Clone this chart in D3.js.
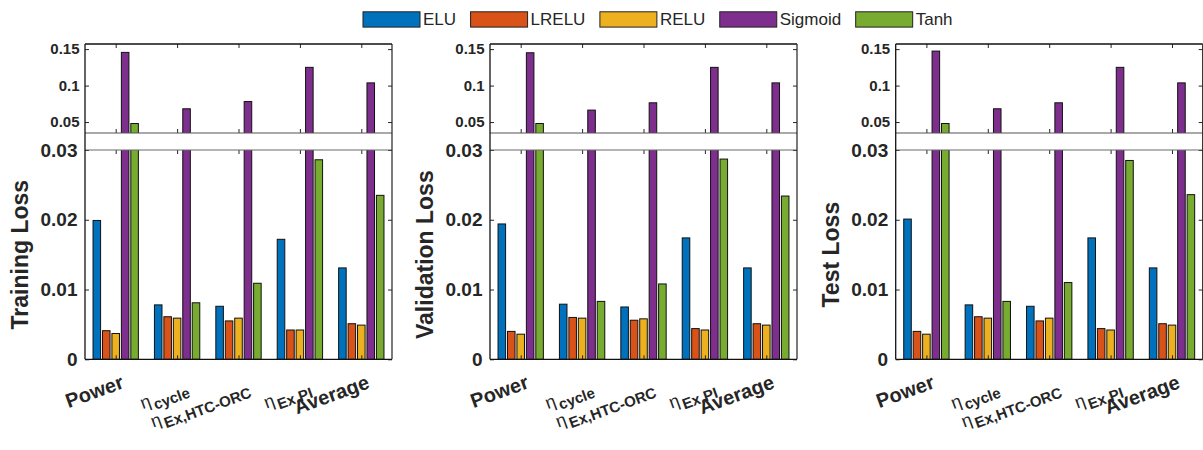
<!DOCTYPE html>
<html>
<head>
<meta charset="utf-8">
<script src="https://cdn.jsdelivr.net/npm/d3@7"></script>
<style>
  body { margin: 0; background: #fff; }
  svg { display: block; }
  text { font-family: "Liberation Sans", Arial, Helvetica, sans-serif; fill: #262626; }
</style>
</head>
<body>
<svg id="chart" width="1203" height="450"></svg>
<script>
// ---- data ----------------------------------------------------------------
// category labels: "η_xxx" is drawn as η with subscript xxx
const categories = ["Power", "η_cycle", "η_Ex,HTC-ORC", "η_Ex,PI", "Average"];
const seriesNames = ["ELU", "LRELU", "RELU", "Sigmoid", "Tanh"];
const seriesColors = ["#0072BD", "#D95319", "#EDB120", "#7E2F8E", "#77AC30"];

// one row per activation function, one column per category
const trainingLoss = [
  [0.0199, 0.0078, 0.0076, 0.0172, 0.0131],
  [0.0041, 0.0061, 0.0055, 0.0042, 0.0051],
  [0.0037, 0.0059, 0.0059, 0.0042, 0.0049],
  [0.1455, 0.0682, 0.0781, 0.1250, 0.1037],
  [0.0480, 0.0081, 0.0109, 0.0286, 0.0235]
];
const validationLoss = [
  [0.0194, 0.0079, 0.0075, 0.0174, 0.0131],
  [0.0040, 0.0060, 0.0056, 0.0044, 0.0051],
  [0.0036, 0.0059, 0.0058, 0.0042, 0.0049],
  [0.1450, 0.0664, 0.0764, 0.1250, 0.1037],
  [0.0480, 0.0083, 0.0108, 0.0287, 0.0234]
];
const testLoss = [
  [0.0201, 0.0078, 0.0076, 0.0174, 0.0131],
  [0.0040, 0.0061, 0.0055, 0.0044, 0.0051],
  [0.0036, 0.0059, 0.0059, 0.0042, 0.0049],
  [0.1473, 0.0682, 0.0764, 0.1250, 0.1037],
  [0.0480, 0.0083, 0.0110, 0.0285, 0.0236]
];
const panelTitles = ["Training Loss", "Validation Loss", "Test Loss"];
const panelData = [trainingLoss, validationLoss, testLoss];

const lowerTicks = [0, 0.01, 0.02, 0.03];
const lowerTickLabels = ["0", "0.01", "0.02", "0.03"];
const upperTicks = [0.05, 0.1, 0.15];
const upperTickLabels = ["0.05", "0.1", "0.15"];
const lowerDomain = [0, 0.03];
const upperDomain = [0.035, 0.157];

// ---- layout --------------------------------------------------------------
const svg = d3.select("#chart");
const panelLefts = [85, 490, 895.7];
const axW = 307;
const upperTop = 44, upperBottom = 133, lowerTop = 150, lowerBottom = 359.3;
const tickLen = 4;

// grouped-bar geometry (five bars per group)
const nS = seriesNames.length;
const groupWidth = Math.min(0.8, nS / (nS + 1.5));
const barStep = groupWidth / nS;
const barFrac = barStep * 0.8;

function styleAxis(sel) {
  sel.select(".domain").remove();
  sel.selectAll(".tick line").attr("stroke", "#262626").attr("stroke-width", 1);
}

panelData.forEach((values, pi) => {
  const x0 = panelLefts[pi], x1 = x0 + axW;
  const g = svg.append("g");

  const x = d3.scaleLinear().domain([0.5, categories.length + 0.5]).range([x0, x1]);
  const yU = d3.scaleLinear().domain(upperDomain).range([upperBottom, upperTop]);
  const yL = d3.scaleLinear().domain(lowerDomain).range([lowerBottom, lowerTop]);
  const bw = x(1 + barFrac) - x(1);

  // clip regions for the two halves of the broken axis
  const defs = g.append("defs");
  defs.append("clipPath").attr("id", "clipU" + pi).append("rect")
    .attr("x", x0).attr("y", upperTop).attr("width", axW).attr("height", upperBottom - upperTop);
  defs.append("clipPath").attr("id", "clipL" + pi).append("rect")
    .attr("x", x0).attr("y", lowerTop).attr("width", axW).attr("height", lowerBottom - lowerTop);

  const flat = [];
  values.forEach((row, si) => row.forEach((v, ci) => flat.push({ si, ci, v })));
  const cx = d => x(d.ci + 1 + (d.si - (nS - 1) / 2) * barStep);

  // lower half: 0 .. 0.03
  g.append("g").attr("clip-path", `url(#clipL${pi})`)
    .selectAll("rect").data(flat).join("rect")
    .attr("x", d => cx(d) - bw / 2)
    .attr("width", bw)
    .attr("y", d => yL(d.v))
    .attr("height", d => yL(0) - yL(d.v))
    .attr("fill", d => seriesColors[d.si])
    .attr("stroke", "#111").attr("stroke-width", 1);

  // upper half: only bars reaching above the break
  g.append("g").attr("clip-path", `url(#clipU${pi})`)
    .selectAll("rect").data(flat.filter(d => d.v > upperDomain[0])).join("rect")
    .attr("x", d => cx(d) - bw / 2)
    .attr("width", bw)
    .attr("y", d => yU(d.v))
    .attr("height", d => upperBottom + 6 - yU(d.v))
    .attr("fill", d => seriesColors[d.si])
    .attr("stroke", "#111").attr("stroke-width", 1);

  // y axes (inward ticks)
  const aUL = g.append("g").attr("transform", `translate(${x0},0)`)
    .call(d3.axisLeft(yU).tickValues(upperTicks).tickSize(-tickLen).tickPadding(5.5)
      .tickFormat((d, i) => upperTickLabels[i]));
  styleAxis(aUL);
  aUL.selectAll(".tick text").style("font-size", "15px").style("font-weight", "bold").attr("fill", "#262626");

  const aLL = g.append("g").attr("transform", `translate(${x0},0)`)
    .call(d3.axisLeft(yL).tickValues(lowerTicks).tickSize(-tickLen).tickPadding(7.5)
      .tickFormat((d, i) => lowerTickLabels[i]));
  styleAxis(aLL);
  aLL.selectAll(".tick text").style("font-size", "19px").style("font-weight", "bold").attr("fill", "#262626");

  styleAxis(g.append("g").attr("transform", `translate(${x1},0)`)
    .call(d3.axisRight(yU).tickValues(upperTicks).tickSize(-tickLen).tickFormat("")));
  styleAxis(g.append("g").attr("transform", `translate(${x1},0)`)
    .call(d3.axisRight(yL).tickValues(lowerTicks).tickSize(-tickLen).tickFormat("")));

  // x ticks on every horizontal edge, pointing into the plot
  const catTicks = d3.range(1, categories.length + 1);
  styleAxis(g.append("g").attr("transform", `translate(0,${upperTop})`)
    .call(d3.axisTop(x).tickValues(catTicks).tickSize(-tickLen).tickFormat("")));
  styleAxis(g.append("g").attr("transform", `translate(0,${upperBottom})`)
    .call(d3.axisBottom(x).tickValues(catTicks).tickSize(-tickLen).tickFormat("")));
  styleAxis(g.append("g").attr("transform", `translate(0,${lowerTop})`)
    .call(d3.axisTop(x).tickValues(catTicks).tickSize(-tickLen).tickFormat("")));
  styleAxis(g.append("g").attr("transform", `translate(0,${lowerBottom})`)
    .call(d3.axisBottom(x).tickValues(catTicks).tickSize(-tickLen).tickFormat("")));

  // frame lines
  const line = (xa, ya, xb, yb, c, w) => g.append("line")
    .attr("x1", xa).attr("y1", ya).attr("x2", xb).attr("y2", yb)
    .attr("stroke", c).attr("stroke-width", w);
  line(x0, upperTop, x1, upperTop, "#111", 1.3);
  line(x0, upperBottom, x1, upperBottom, "#555", 1.2);
  line(x0, lowerTop, x1, lowerTop, "#6a6a6a", 1.2);
  line(x0, lowerBottom, x1, lowerBottom, "#111", 1.3);
  line(x0, upperTop, x0, lowerBottom, "#111", 1.3);
  line(x1, upperTop, x1, lowerBottom, "#222", 1.2);

  // rotated category labels
  categories.forEach((c, ci) => {
    const parts = c.split("_");
    const hasSub = parts.length > 1;
    const tx = x(ci + 1) + (hasSub ? 12.3 : 9.3);
    const ty = lowerBottom + (hasSub ? 32.9 : 28.4);
    const t = g.append("text")
      .attr("transform", `translate(${tx},${ty}) rotate(-20)`)
      .attr("text-anchor", "end");
    if (hasSub) {
      t.append("tspan").text(parts[0]).style("font-size", "18px").style("font-weight", "normal");
      t.append("tspan").attr("dx", 2).attr("dy", 5).text(parts[1])
        .style("font-size", "15px").style("font-weight", "bold");
    } else {
      t.text(c).style("font-size", "20px").style("font-weight", "bold");
    }
  });

  // y-axis title
  g.append("text")
    .attr("transform", `translate(${x0 - 56.8},${(lowerTop + lowerBottom) / 2}) rotate(-90)`)
    .attr("text-anchor", "middle")
    .style("font-size", "23px").style("font-weight", "bold")
    .text(panelTitles[pi]);
});

// ---- legend --------------------------------------------------------------
const legend = svg.append("g");
let lx = 363;
const boxW = 57, boxH = 15.3, ly = 11.8;
seriesNames.forEach((name, i) => {
  legend.append("rect")
    .attr("x", lx).attr("y", ly).attr("width", boxW).attr("height", boxH)
    .attr("fill", seriesColors[i]).attr("stroke", "#222").attr("stroke-width", 1);
  const t = legend.append("text")
    .attr("x", lx + boxW + 3).attr("y", ly + boxH / 2)
    .attr("dominant-baseline", "central")
    .style("font-size", "17px")
    .text(name);
  lx += boxW + 3 + t.node().getComputedTextLength() + 14.5;
});
</script>
</body>
</html>
